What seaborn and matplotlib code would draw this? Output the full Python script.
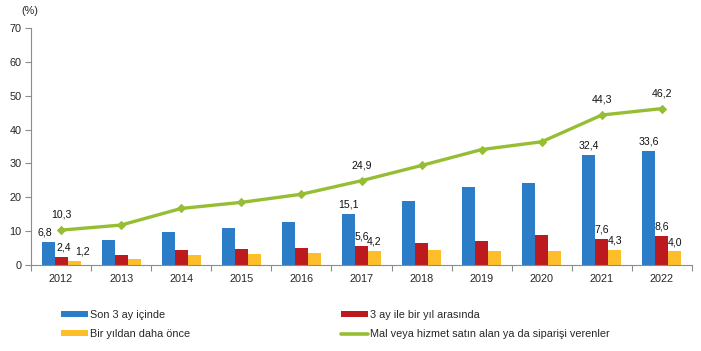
import matplotlib
matplotlib.use("Agg")
import matplotlib.pyplot as plt
import seaborn as sns
import pandas as pd
from matplotlib.patches import Patch
from matplotlib.lines import Line2D
from matplotlib.ticker import FixedLocator

# ---- data ----
years = ["2012", "2013", "2014", "2015", "2016", "2017", "2018", "2019", "2020", "2021", "2022"]
son_3_ay = [6.8, 7.4, 9.6, 10.8, 12.6, 15.1, 18.8, 22.9, 24.1, 32.4, 33.6]
uc_ay_bir_yil = [2.4, 2.9, 4.3, 4.6, 4.9, 5.6, 6.4, 7.0, 8.8, 7.6, 8.6]
bir_yildan_once = [1.2, 1.7, 2.9, 3.2, 3.5, 4.2, 4.4, 4.0, 4.0, 4.3, 4.0]
toplam = [10.3, 11.8, 16.7, 18.5, 20.9, 24.9, 29.4, 34.1, 36.4, 44.3, 46.2]

series_names = ["Son 3 ay içinde", "3 ay ile bir yıl arasında", "Bir yıldan daha önce"]
line_name = "Mal veya hizmet satın alan ya da siparişi verenler"
labelled_years = ["2012", "2017", "2021", "2022"]
yticks = [0, 10, 20, 30, 40, 50, 60, 70]

colors = {"Son 3 ay içinde": "#2B7DC7",
          "3 ay ile bir yıl arasında": "#BC1A1E",
          "Bir yıldan daha önce": "#FDBE2A"}
line_color = "#96BE32"

sns.set_theme(style="white")
plt.rcParams["font.family"] = ["Liberation Sans", "DejaVu Sans"]
FS = 7.8
LFS = 7.6

bars_df = pd.DataFrame({
    "Yıl": years * 3,
    "Değer": son_3_ay + uc_ay_bir_yil + bir_yildan_once,
    "Seri": [series_names[0]] * len(years) + [series_names[1]] * len(years) + [series_names[2]] * len(years),
})
line_df = pd.DataFrame({"Yıl": years, "Değer": toplam})

fig = plt.figure(figsize=(7.01, 3.51), dpi=100)
ax = fig.add_axes([31 / 701, 1 - 265 / 351, (692 - 31) / 701, (265 - 28) / 351])

sns.barplot(data=bars_df, x="Yıl", y="Değer", hue="Seri", hue_order=series_names,
            order=years, palette=colors, width=0.65, saturation=1, errorbar=None,
            legend=False, linewidth=0, edgecolor="none", ax=ax)
sns.pointplot(data=line_df, x="Yıl", y="Değer", order=years, color=line_color,
              markers="D", markersize=3, linewidth=2.4, errorbar=None, ax=ax)

def fmt(v):
    return f"{v:.1f}".replace(".", ",")

# bar labels (first year's labels are nudged sideways in the original to avoid overlap)
series_values = [son_3_ay, uc_ay_bir_yil, bir_yildan_once]
first_year_shift = [-3, 3, 8]
for k, vals in enumerate(series_values):
    cont = ax.containers[k]
    for i, (y, v) in enumerate(zip(years, vals)):
        if y not in labelled_years:
            continue
        bar = cont.patches[i]
        cx = bar.get_x() + bar.get_width() / 2
        dx = first_year_shift[k] if i == 0 else 0
        ax.annotate(fmt(v), (cx, bar.get_height()), xytext=(dx * 0.72, 3.2),
                    textcoords="offset points", ha="center", va="bottom",
                    fontsize=LFS, color="#111111")

# line labels
for i, (y, v) in enumerate(zip(years, toplam)):
    if y in labelled_years:
        ax.annotate(fmt(v), (i, v), xytext=(0, 7.5), textcoords="offset points",
                    ha="center", va="bottom", fontsize=LFS, color="#111111")

ax.set_xlim(-0.5, len(years) - 0.5)
ax.set_ylim(0, 70)
ax.set_yticks(yticks)
ax.set_yticklabels([str(t) for t in yticks])
ax.set_xlabel("")
ax.set_ylabel("")

for s in ["top", "right"]:
    ax.spines[s].set_visible(False)
for s in ["left", "bottom"]:
    ax.spines[s].set_color("#8C8C8C")
    ax.spines[s].set_linewidth(0.8)

ax.tick_params(axis="y", which="major", direction="out", length=4, width=0.8,
               color="#8C8C8C", labelsize=FS, pad=3, left=True)
ax.tick_params(axis="x", which="major", length=0, labelsize=FS, pad=6.5)
ax.xaxis.set_minor_locator(FixedLocator([i - 0.5 for i in range(len(years) + 1)]))
ax.tick_params(axis="x", which="minor", direction="out", length=4, width=0.8,
               color="#8C8C8C", bottom=True)
ax.grid(False)

fig.text(29.5 / 701, 1 - 11 / 351, "(%)", ha="center", va="center", fontsize=FS)

# legends
h_blue = Patch(facecolor=colors[series_names[0]], edgecolor="none")
h_red = Patch(facecolor=colors[series_names[1]], edgecolor="none")
h_yel = Patch(facecolor=colors[series_names[2]], edgecolor="none")
h_line = Line2D([], [], color=line_color, linewidth=2.6)

common = dict(frameon=False, fontsize=FS, handlelength=2.5, handleheight=0.5,
              handletextpad=0.2, labelspacing=0.9, borderpad=0, borderaxespad=0,
              loc="upper left")
leg1 = fig.legend([h_blue, h_yel], [series_names[0], series_names[2]],
                  bbox_to_anchor=(61 / 701, 1 - 309.5 / 351), **common)
leg2 = fig.legend([h_red, h_line], [series_names[1], line_name],
                  bbox_to_anchor=(341 / 701, 1 - 309.5 / 351), **common)

fig.savefig("out.png", dpi=100, facecolor="white")
